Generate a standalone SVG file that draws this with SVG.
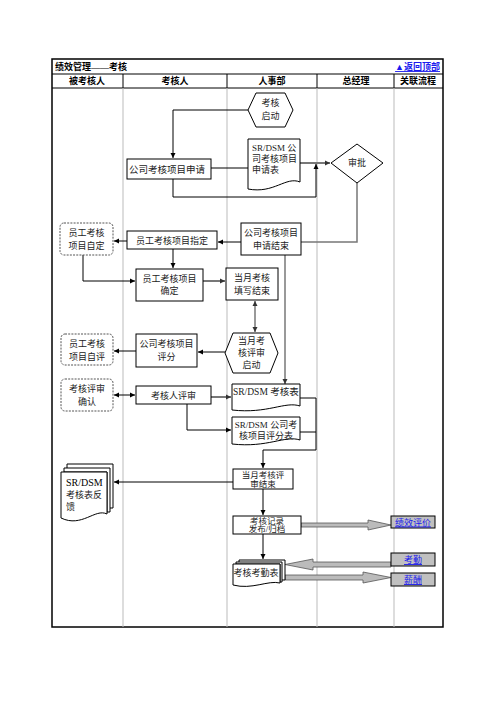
<svg xmlns="http://www.w3.org/2000/svg" width="496" height="702" viewBox="0 0 496 702">
<style>
text{font-family:"Liberation Serif","Noto Sans CJK SC",serif;font-size:9px;fill:#222}
.h{font-weight:bold;font-size:9px;fill:#000}
.c{text-anchor:middle}
.s{font-size:8.5px}
.box{fill:#fff;stroke:#000;stroke-width:1}
.dot{fill:#fff;stroke:#555;stroke-width:1;stroke-dasharray:2,1.2}
.lnk{fill:#c0c0c0;stroke:#000;stroke-width:1}
.lt{fill:#1a1aee;text-decoration:underline;text-anchor:middle}
.k{fill:none;stroke:#000;stroke-width:1}
.g{fill:none;stroke:#777;stroke-width:2}
.col{stroke:#bbb;stroke-width:1}
.blk{fill:#bbb;stroke:#555;stroke-width:0.8}
</style>
<defs>
<marker id="a" markerWidth="6" markerHeight="6" refX="5" refY="3" orient="auto" markerUnits="userSpaceOnUse"><path d="M0,0.5 L5,3 L0,5.5 Z" fill="#000"/></marker>
<marker id="as" markerWidth="6" markerHeight="6" refX="1" refY="3" orient="auto" markerUnits="userSpaceOnUse"><path d="M6,0.5 L1,3 L6,5.5 Z" fill="#000"/></marker>
<marker id="ag" markerWidth="6" markerHeight="6" refX="5" refY="3" orient="auto" markerUnits="userSpaceOnUse"><path d="M0,0.5 L5,3 L0,5.5 Z" fill="#333"/></marker>
<marker id="ags" markerWidth="6" markerHeight="6" refX="1" refY="3" orient="auto" markerUnits="userSpaceOnUse"><path d="M6,0.5 L1,3 L6,5.5 Z" fill="#333"/></marker>
</defs>

<g id="frame">
<rect x="52" y="59" width="391" height="568" fill="#fff" stroke="#000" stroke-width="1.5"/>
<line x1="52" y1="74" x2="443" y2="74" stroke="#000"/>
<line x1="52" y1="88" x2="443" y2="88" stroke="#000"/>
<line x1="123" y1="74" x2="123" y2="88" stroke="#000"/>
<line x1="227" y1="74" x2="227" y2="88" stroke="#000"/>
<line x1="317" y1="74" x2="317" y2="88" stroke="#000"/>
<line x1="394" y1="74" x2="394" y2="88" stroke="#000"/>
<line class="col" x1="123" y1="88" x2="123" y2="627"/>
<line class="col" x1="227" y1="88" x2="227" y2="627"/>
<line class="col" x1="317" y1="88" x2="317" y2="627"/>
<line class="col" x1="394" y1="88" x2="394" y2="627"/>
<text class="h" x="55" y="70">绩效管理——考核</text>
<text x="440" y="70" style="font-weight:bold;fill:#1a1aee;text-decoration:underline;text-anchor:end">▲返回顶部</text>
<text class="h c" x="87" y="84">被考核人</text>
<text class="h c" x="175" y="84">考核人</text>
<text class="h c" x="272" y="84">人事部</text>
<text class="h c" x="356" y="84">总经理</text>
<text class="h c" x="418" y="84">关联流程</text>
</g>

<g id="connectors">
<polyline class="k" points="248,110 173,110 173,158" marker-end="url(#a)"/>
<line class="k" x1="211" y1="168" x2="248" y2="168"/>
<line class="g" x1="300" y1="163" x2="330" y2="163" marker-end="url(#ag)"/>
<polyline class="k" points="173,178 173,197 316,197 316,164" marker-end="url(#a)"/>
<polyline class="g" points="357,183 357,242 301,242" style="stroke-width:1.5"/>
<line class="k" x1="241" y1="242" x2="218" y2="242" marker-end="url(#a)"/>
<line class="k" x1="127" y1="241" x2="114" y2="241" marker-end="url(#a)"/>
<line class="k" x1="173" y1="249" x2="173" y2="268" marker-end="url(#a)"/>
<polyline class="k" points="83,255 83,281 135,281" marker-end="url(#a)"/>
<line class="g" x1="203" y1="281" x2="225" y2="281" marker-end="url(#ag)"/>
<line class="g" x1="285" y1="255" x2="285" y2="384" style="stroke-width:1.5" marker-end="url(#ag)"/>
<line class="g" x1="255" y1="301" x2="255" y2="332" style="stroke-width:1.5" marker-start="url(#ags)" marker-end="url(#ag)"/>
<line class="k" x1="225" y1="352" x2="198" y2="352" marker-end="url(#a)"/>
<line class="k" x1="136" y1="351" x2="114" y2="351" marker-end="url(#a)"/>
<line class="k" x1="114" y1="395" x2="135" y2="395" marker-start="url(#as)" marker-end="url(#a)"/>
<line class="g" x1="211" y1="397" x2="231" y2="397" marker-end="url(#ag)"/>
<polyline class="k" points="187,404 187,430 231,430" marker-end="url(#a)"/>
<polyline class="k" points="300,398 316,398 316,450 263,450 263,468" marker-end="url(#a)"/>
<line class="k" x1="300" y1="432" x2="316" y2="432"/>
<line class="k" x1="233" y1="482" x2="114" y2="482" marker-end="url(#a)"/>
<line class="k" x1="263" y1="489" x2="263" y2="515" marker-end="url(#a)"/>
<line class="k" x1="263" y1="534" x2="263" y2="559" marker-end="url(#a)"/>
<path class="blk" d="M301,523 H368 V520 L391,525 L368,530 V527 H301 Z"/>
<path class="blk" d="M391,562 H313 V559 L285,564.5 L313,570 V567 H391 Z"/>
<path class="blk" d="M285,575 H363 V572 L391,577.5 L363,583 V580 H285 Z"/>
</g>

<g id="n-start">
<polygon class="box" points="248,110 256,93 285,93 293,110 285,127 256,127"/>
<text class="c" x="270.5" y="106">考核</text>
<text class="c" x="270.5" y="119">启动</text>
</g>
<g id="n-apply">
<rect class="box" x="127" y="159" width="84" height="20"/>
<text x="129" y="172.5" style="font-size:9.5px">公司考核项目申请</text>
</g>
<g id="n-applyform">
<path class="box" d="M248,139 H300 V182 C286,176 274,194 248,189 Z"/>
<text x="252" y="151">SR/DSM 公</text>
<text x="252" y="162">司考核项目</text>
<text x="252" y="173">申请表</text>
</g>
<g id="n-approve">
<polygon class="box" points="331,163 357,144 383,163 357,183"/>
<text class="c" x="357" y="166">审批</text>
</g>
<g id="n-selfset">
<rect class="dot" x="60" y="223" width="53" height="32" rx="4"/>
<text class="c" x="86.5" y="236">员工考核</text>
<text class="c" x="86.5" y="249">项目自定</text>
</g>
<g id="n-assign">
<rect class="box" x="127" y="231" width="90" height="18"/>
<text class="c" x="172" y="243.5">员工考核项目指定</text>
</g>
<g id="n-applyend">
<rect class="box" x="241" y="223" width="60" height="32"/>
<text class="c" x="271" y="236">公司考核项目</text>
<text class="c" x="271" y="249">申请结束</text>
</g>
<g id="n-confirm">
<rect class="box" x="136" y="269" width="67" height="32"/>
<text class="c" x="169.5" y="282">员工考核项目</text>
<text class="c" x="169.5" y="294">确定</text>
</g>
<g id="n-fillend">
<rect class="box" x="226" y="268" width="52" height="32"/>
<text class="c" x="252" y="281">当月考核</text>
<text class="c" x="252" y="294">填写结束</text>
</g>
<g id="n-selfeval">
<rect class="dot" x="61" y="334" width="52" height="31" rx="4"/>
<text class="c" x="87" y="347">员工考核</text>
<text class="c" x="87" y="360">项目自评</text>
</g>
<g id="n-score">
<rect class="box" x="136" y="334" width="61" height="33"/>
<text class="c" x="166.5" y="347">公司考核项目</text>
<text class="c" x="166.5" y="360">评分</text>
</g>
<g id="n-reviewstart">
<polygon class="box" points="225,353 233,333 270,333 278,353 270,373 233,373"/>
<text class="c" x="251.5" y="344">当月考</text>
<text class="c" x="251.5" y="356">核评审</text>
<text class="c" x="251.5" y="368">启动</text>
</g>
<g id="n-reviewconfirm">
<rect class="dot" x="61" y="379" width="52" height="32" rx="4"/>
<text class="c" x="87" y="392">考核评审</text>
<text class="c" x="87" y="405">确认</text>
</g>
<g id="n-review">
<rect class="box" x="136" y="386" width="75" height="18"/>
<text class="c" x="173.5" y="398.5">考核人评审</text>
</g>
<g id="n-sheet">
<path class="box" d="M232,384 H300 V406 C285,401 268,414 232,410 Z"/>
<text x="233" y="395" style="font-size:9.5px">SR/DSM 考核表</text>
</g>
<g id="n-scoresheet">
<path class="box" d="M232,417 H300 V440 C285,435 268,448 232,444 Z"/>
<text class="c" x="266" y="428">SR/DSM 公司考</text>
<text class="c" x="266" y="439">核项目评分表</text>
</g>
<g id="n-reviewend">
<rect class="box" x="233" y="469" width="60" height="20"/>
<text class="c s" x="263" y="477.5">当月考核评</text>
<text class="c s" x="263" y="486.5">审结束</text>
</g>
<g id="n-feedback">
<path class="box" d="M67,464 H113 V508 H107 V472 H67 Z"/>
<path class="box" d="M64,468 H110 V512 H107 V472 H64 Z"/>
<path class="box" d="M61,472 H107 V514 C95,508 82,528 61,518 Z"/>
<text x="66" y="486" style="font-size:10px;fill:#000">SR/DSM</text>
<text x="66" y="498">考核表反</text>
<text x="66" y="510">馈</text>
</g>
<g id="n-archive">
<rect class="box" x="233" y="516" width="68" height="18"/>
<text class="c s" x="267" y="523.5">考核记录</text>
<text class="c s" x="267" y="532">发布/归档</text>
</g>
<g id="n-attsheet">
<path class="box" d="M239,560 H285 V580 H280 V564 H239 Z"/>
<path class="box" d="M236,562 H282 V582 H280 V564 H236 Z"/>
<path class="box" d="M233,564 H280 V583 C268,580 252,590 233,585 Z"/>
<text class="c" x="256" y="576">考核考勤表</text>
</g>
<g id="n-perf">
<rect class="lnk" x="391" y="516" width="44" height="12"/>
<text class="lt" x="413" y="525.5">绩效评价</text>
</g>
<g id="n-att">
<rect class="lnk" x="391" y="553" width="44" height="13"/>
<text class="lt" x="413" y="563">考勤</text>
</g>
<g id="n-pay">
<rect class="lnk" x="391" y="573" width="44" height="13"/>
<text class="lt" x="413" y="583">薪酬</text>
</g>
</svg>
